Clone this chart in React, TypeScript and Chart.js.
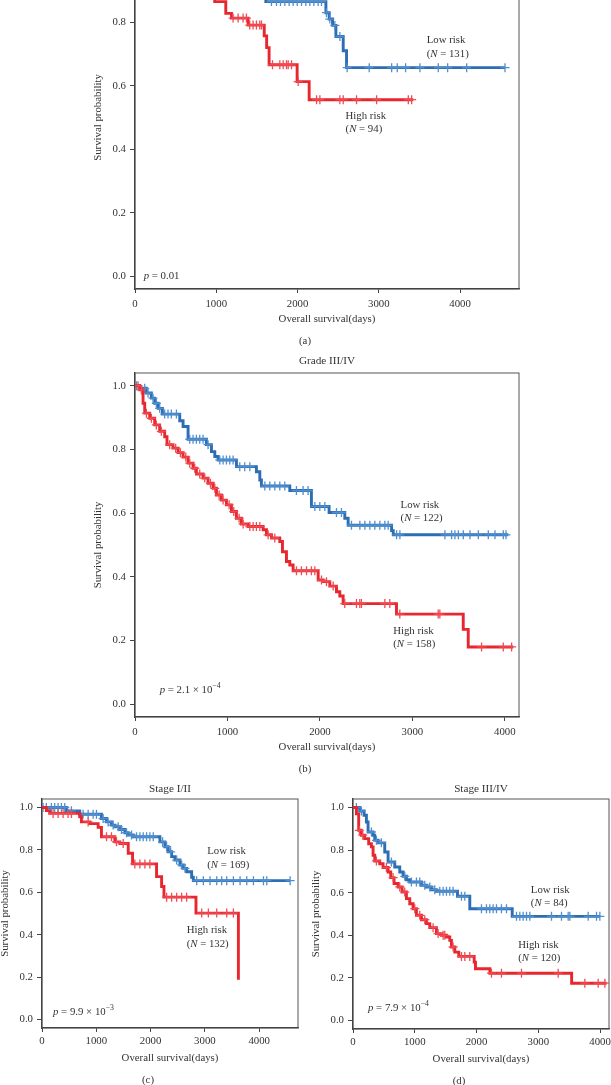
import React, { useEffect, useRef } from "react";
import { Chart, registerables } from "chart.js";

Chart.register(...registerables);

// ---------- shared ticks / labels ----------
const X_TICKS = [0, 1000, 2000, 3000, 4000];
const Y_TICKS = [0, 0.2, 0.4, 0.6, 0.8, 1.0];
const X_TITLE = "Overall survival(days)";
const Y_TITLE = "Survival probability";

// ---------- panel (a) ----------
const A_HIGH_T = [0, 160, 330, 520, 700, 830, 981, 1117, 1187, 1392, 1590, 1620, 1650, 1995, 2143, 3424];
const A_HIGH_S = [1.0, 0.989, 0.968, 0.947, 0.926, 0.894, 0.865, 0.828, 0.813, 0.791, 0.757, 0.72, 0.666, 0.613, 0.556, 0.556];
const A_HIGH_C = [240, 450, 610, 900, 1207, 1269, 1330, 1371, 1412, 1453, 1494, 1535, 1556, 1692, 1782, 1823, 1864, 1885, 1926, 2008, 2234, 2275, 2521, 2562, 2726, 2973, 3363, 3404];
const A_LOW_T = [0, 310, 690, 1010, 1290, 1490, 1610, 2349, 2390, 2431, 2472, 2562, 2603, 4553];
const A_LOW_S = [1.0, 0.982, 0.96, 0.935, 0.91, 0.887, 0.865, 0.83, 0.81, 0.79, 0.755, 0.71, 0.657, 0.657];
const A_LOW_C = [180, 520, 850, 1150, 1400, 1679, 1741, 1790, 1844, 1897, 1946, 1996, 2049, 2102, 2151, 2201, 2254, 2295, 2356, 2397, 2459, 2521, 2611, 2882, 3158, 3227, 3330, 3506, 3732, 3847, 4081, 4553];

// ---------- panel (b) ----------
const B_HIGH_T = [0, 51, 87, 105, 159, 213, 267, 321, 346, 411, 466, 520, 574, 628, 664, 736, 790, 844, 881, 935, 989, 1043, 1097, 1151, 1223, 1386, 1422, 1476, 1566, 1595, 1638, 1674, 1710, 1981, 2035, 2107, 2179, 2215, 2251, 2828, 3550, 3604, 4091];
const B_HIGH_S = [1.0, 0.987, 0.945, 0.914, 0.898, 0.877, 0.857, 0.84, 0.815, 0.804, 0.79, 0.776, 0.757, 0.741, 0.723, 0.71, 0.694, 0.678, 0.657, 0.641, 0.626, 0.605, 0.584, 0.566, 0.558, 0.548, 0.532, 0.522, 0.511, 0.479, 0.448, 0.437, 0.419, 0.39, 0.385, 0.371, 0.353, 0.34, 0.316, 0.283, 0.235, 0.18, 0.18];
const B_HIGH_C = [33, 69, 123, 177, 231, 285, 375, 440, 491, 549, 592, 646, 700, 754, 816, 863, 910, 953, 1018, 1068, 1126, 1170, 1242, 1278, 1313, 1350, 1440, 1512, 1746, 1800, 1855, 1908, 1945, 2017, 2071, 2143, 2269, 2395, 2431, 2449, 2702, 2756, 2864, 3279, 3297, 3748, 3983, 4073];
const B_LOW_T = [0, 51, 123, 177, 213, 250, 296, 484, 520, 574, 772, 827, 863, 899, 1097, 1313, 1350, 1367, 1674, 1908, 2099, 2269, 2305, 2775, 2793, 4037];
const B_LOW_S = [1.0, 0.992, 0.977, 0.961, 0.945, 0.929, 0.911, 0.89, 0.872, 0.832, 0.815, 0.793, 0.778, 0.767, 0.746, 0.73, 0.704, 0.685, 0.671, 0.621, 0.602, 0.584, 0.562, 0.545, 0.532, 0.532];
const B_LOW_C = [15, 105, 141, 195, 231, 267, 321, 357, 393, 448, 592, 628, 664, 700, 736, 790, 917, 953, 989, 1025, 1061, 1133, 1187, 1242, 1404, 1458, 1512, 1566, 1620, 1746, 1818, 1872, 1945, 1999, 2053, 2179, 2233, 2341, 2432, 2486, 2540, 2594, 2648, 2702, 2738, 2829, 2865, 3352, 3424, 3460, 3497, 3551, 3623, 3713, 3821, 3893, 3983, 4012];

// ---------- panel (c) ----------
const C_HIGH_T = [0, 80, 142, 695, 726, 880, 1034, 1095, 1342, 1434, 1588, 1668, 2110, 2203, 2246, 2836, 3617];
const C_HIGH_S = [1.0, 0.985, 0.972, 0.956, 0.932, 0.924, 0.906, 0.862, 0.838, 0.83, 0.784, 0.734, 0.674, 0.627, 0.577, 0.502, 0.188];
const C_HIGH_C = [204, 296, 388, 480, 542, 850, 1188, 1280, 1372, 1495, 1710, 1803, 1895, 1987, 2295, 2387, 2480, 2572, 2664, 2941, 3064, 3218, 3402, 3525];
const C_LOW_T = [0, 450, 695, 1095, 1188, 1280, 1342, 1434, 1526, 1588, 1680, 2172, 2264, 2325, 2387, 2448, 2541, 2602, 2664, 2756, 2787, 4567];
const C_LOW_S = [1.0, 0.984, 0.968, 0.948, 0.932, 0.917, 0.909, 0.896, 0.881, 0.87, 0.862, 0.838, 0.815, 0.791, 0.768, 0.752, 0.729, 0.713, 0.697, 0.671, 0.655, 0.655];
const C_LOW_C = [19, 80, 173, 234, 296, 357, 419, 542, 757, 850, 942, 1003, 1126, 1218, 1311, 1403, 1464, 1557, 1649, 1741, 1803, 1864, 1926, 1987, 2049, 2221, 2295, 2369, 2480, 2572, 2633, 2849, 2972, 3095, 3218, 3310, 3402, 3525, 3648, 3771, 3894, 4079, 4140, 4570];

// ---------- panel (d) ----------
const D_HIGH_T = [0, 55, 92, 135, 189, 254, 298, 325, 352, 433, 487, 568, 611, 665, 730, 795, 865, 919, 973, 1027, 1108, 1189, 1243, 1351, 1432, 1513, 1567, 1594, 1648, 1713, 1962, 1983, 2216, 3540, 4107];
const D_HIGH_S = [1.0, 0.97, 0.893, 0.87, 0.854, 0.83, 0.815, 0.776, 0.749, 0.736, 0.718, 0.697, 0.671, 0.643, 0.627, 0.603, 0.572, 0.548, 0.525, 0.494, 0.473, 0.455, 0.436, 0.408, 0.4, 0.392, 0.376, 0.345, 0.321, 0.301, 0.274, 0.243, 0.222, 0.175, 0.175];
const D_HIGH_C = [103, 158, 379, 541, 649, 757, 838, 1000, 1081, 1162, 1297, 1378, 1459, 1486, 1621, 1756, 1810, 1891, 2242, 2404, 2728, 3322, 3754, 3970, 4079];
const D_LOW_T = [0, 108, 179, 217, 244, 325, 352, 406, 514, 568, 676, 757, 811, 865, 919, 1108, 1189, 1270, 1351, 1692, 1891, 2578, 3998];
const D_LOW_S = [1.0, 0.984, 0.964, 0.932, 0.885, 0.87, 0.846, 0.834, 0.791, 0.744, 0.721, 0.697, 0.677, 0.661, 0.65, 0.635, 0.627, 0.614, 0.607, 0.583, 0.525, 0.489, 0.489];
const D_LOW_C = [55, 136, 298, 379, 460, 622, 838, 946, 1027, 1081, 1162, 1243, 1324, 1405, 1459, 1513, 1567, 1621, 1756, 1810, 2080, 2161, 2215, 2269, 2323, 2404, 2485, 2647, 2701, 2755, 2809, 2863, 3214, 3376, 3484, 3511, 3808, 3943, 3997];

// ---------- styles ----------
const RED = "#E8262E";
const RED_MARK = "#F04B53";
const BLUE = "#2C6DB4";
const BLUE_MARK = "#4F8FCF";
const TEXT = "#333333";
const FONT = '"Liberation Serif", "Times New Roman", serif';
const FS = 10.8;

type Part = { t: string; i?: boolean; sup?: boolean };
type Note = { x: number; y: number; parts: Part[] };

const nLabel = (n: string): Part[] => [{ t: "(" }, { t: "N", i: true }, { t: " = " + n + ")" }];
const pPlain = (v: string): Part[] => [{ t: "p", i: true }, { t: " = " + v }];
const pSci = (m: string, e: string): Part[] => [{ t: "p", i: true }, { t: " = " + m + " \u00d7 10" }, { t: e, sup: true }];

const A_NOTES: Note[] = [
  { x: 3589, y: 0.742, parts: [{ t: "Low risk" }] },
  { x: 3589, y: 0.7, parts: nLabel("131") },
  { x: 2591, y: 0.503, parts: [{ t: "High risk" }] },
  { x: 2591, y: 0.463, parts: nLabel("94") },
  { x: 107, y: 0.0, parts: pPlain("0.01") },
];
const B_NOTES: Note[] = [
  { x: 2872, y: 0.626, parts: [{ t: "Low risk" }] },
  { x: 2872, y: 0.584, parts: nLabel("122") },
  { x: 2792, y: 0.23, parts: [{ t: "High risk" }] },
  { x: 2792, y: 0.189, parts: nLabel("158") },
  { x: 267, y: 0.044, parts: pSci("2.1", "\u22124") },
];
const C_NOTES: Note[] = [
  { x: 3044, y: 0.795, parts: [{ t: "Low risk" }] },
  { x: 3044, y: 0.727, parts: nLabel("169") },
  { x: 2664, y: 0.423, parts: [{ t: "High risk" }] },
  { x: 2664, y: 0.357, parts: nLabel("132") },
  { x: 203, y: 0.033, parts: pSci("9.9", "\u22123") },
];
const D_NOTES: Note[] = [
  { x: 2880, y: 0.611, parts: [{ t: "Low risk" }] },
  { x: 2880, y: 0.549, parts: nLabel("84") },
  { x: 2674, y: 0.353, parts: [{ t: "High risk" }] },
  { x: 2674, y: 0.293, parts: nLabel("120") },
  { x: 243, y: 0.056, parts: pSci("7.9", "\u22124") },
];

type Curve = { t: number[]; s: number[]; c: number[] };
type PanelCfg = {
  area: [number, number, number, number]; // left, top, right, bottom in page px
  xMax: number;
  title: string | null;
  titleGap: number;
  sub: string;
  tickPad: number;
  high: Curve;
  low: Curve;
  notes: Note[];
};

const PANELS: PanelCfg[] = [
  {
    area: [135, -54, 519, 289], xMax: 4725, title: null, titleGap: 11, sub: "(a)", tickPad: 5,
    high: { t: A_HIGH_T, s: A_HIGH_S, c: A_HIGH_C }, low: { t: A_LOW_T, s: A_LOW_S, c: A_LOW_C }, notes: A_NOTES,
  },
  {
    area: [135, 373, 519, 717], xMax: 4153, title: "Grade III/IV", titleGap: 11.5, sub: "(b)", tickPad: 5,
    high: { t: B_HIGH_T, s: B_HIGH_S, c: B_HIGH_C }, low: { t: B_LOW_T, s: B_LOW_S, c: B_LOW_C }, notes: B_NOTES,
  },
  {
    area: [42, 799, 298, 1028], xMax: 4715, title: "Stage I/II", titleGap: 9.5, sub: "(c)", tickPad: 3,
    high: { t: C_HIGH_T, s: C_HIGH_S, c: C_HIGH_C }, low: { t: C_LOW_T, s: C_LOW_S, c: C_LOW_C }, notes: C_NOTES,
  },
  {
    area: [353, 799, 609, 1029], xMax: 4145, title: "Stage III/IV", titleGap: 9.5, sub: "(d)", tickPad: 3,
    high: { t: D_HIGH_T, s: D_HIGH_S, c: D_HIGH_C }, low: { t: D_LOW_T, s: D_LOW_S, c: D_LOW_C }, notes: D_NOTES,
  },
];

const PAD_L = 44;
const PAD_R = 14;
const PAD_T = 24;
const PAD_B = 37;
const EXTRA_B = 26;

function survAt(t: number[], s: number[], x: number): number {
  let v = s[0];
  for (let i = 0; i < t.length; i++) {
    if (t[i] <= x) v = s[i];
    else break;
  }
  return v;
}

function drawRich(ctx: CanvasRenderingContext2D, parts: Part[], x: number, y: number) {
  let cx = x;
  ctx.textAlign = "left";
  ctx.textBaseline = "middle";
  ctx.fillStyle = TEXT;
  for (const p of parts) {
    const fs = p.sup ? FS * 0.72 : FS;
    ctx.font = `${p.i ? "italic " : ""}${fs}px ${FONT}`;
    ctx.fillText(p.t, cx, p.sup ? y - FS * 0.38 : y);
    cx += ctx.measureText(p.t).width;
  }
}

function KMPanel({ cfg }: { cfg: PanelCfg }) {
  const ref = useRef<HTMLCanvasElement | null>(null);
  const [l, t, r, b] = cfg.area;
  const left = l - PAD_L;
  const top = t - PAD_T;
  const width = r - l + PAD_L + PAD_R;
  const height = b - t + PAD_T + PAD_B + EXTRA_B;

  useEffect(() => {
    if (!ref.current) return;
    const lineDs = (c: Curve, color: string) => ({
      type: "line" as const,
      data: c.t.map((x, i) => ({ x, y: c.s[i] })),
      borderColor: color,
      backgroundColor: color,
      borderWidth: 2.9,
      stepped: "before" as const,
      pointRadius: 0,
      fill: false,
      tension: 0,
    });
    const censorDs = (c: Curve, color: string) => ({
      type: "line" as const,
      data: c.c.map((x) => ({ x, y: survAt(c.t, c.s, x) })),
      showLine: false,
      pointStyle: "cross" as const,
      pointRadius: 4.5,
      borderColor: color,
      backgroundColor: color,
      pointBorderWidth: 1.3,
      borderWidth: 1.3,
    });

    const decor = {
      id: "decor",
      beforeDatasetsDraw(chart: any) {
        const { ctx, chartArea: a } = chart;
        ctx.save();
        ctx.strokeStyle = "#555";
        ctx.lineWidth = 1;
        ctx.strokeRect(a.left, a.top, a.right - a.left, a.bottom - a.top);
        ctx.restore();
      },
      afterDraw(chart: any) {
        const { ctx, chartArea: a, scales } = chart;
        ctx.save();
        ctx.fillStyle = TEXT;
        ctx.textBaseline = "middle";
        ctx.textAlign = "center";
        ctx.font = `${FS + 0.4}px ${FONT}`;
        if (cfg.title) ctx.fillText(cfg.title, (a.left + a.right) / 2, a.top - cfg.titleGap);
        ctx.font = `${FS}px ${FONT}`;
        ctx.fillText(cfg.sub, (a.left + a.right) / 2 - 22, a.bottom + 52);
        for (const n of cfg.notes) {
          drawRich(ctx, n.parts, scales.x.getPixelForValue(n.x), scales.y.getPixelForValue(n.y));
        }
        ctx.restore();
      },
    };

    const chart = new Chart(ref.current, {
      type: "line",
      data: {
        datasets: [
          censorDs(cfg.high, RED_MARK),
          lineDs(cfg.high, RED),
          censorDs(cfg.low, BLUE_MARK),
          lineDs(cfg.low, BLUE),
        ] as any,
      },
      options: {
        responsive: false,
        animation: false,
        events: [],
        layout: { padding: { left: 0, top: PAD_T, right: PAD_R, bottom: EXTRA_B } },
        plugins: { legend: { display: false }, tooltip: { enabled: false }, title: { display: false } },
        scales: {
          x: {
            type: "linear",
            min: 0,
            max: cfg.xMax,
            afterBuildTicks: (s: any) => {
              s.ticks = X_TICKS.map((v) => ({ value: v }));
            },
            afterFit: (s: any) => {
              s.height = PAD_B;
            },
            grid: { drawOnChartArea: false, drawTicks: true, tickLength: 4, color: "#444", lineWidth: 1 },
            border: { display: true, color: "#333", width: 1.3 },
            ticks: {
              color: TEXT,
              font: { family: FONT, size: FS },
              padding: cfg.tickPad,
              maxRotation: 0,
              autoSkip: false,
              callback: (v: any) => String(v),
            },
            title: {
              display: true,
              text: X_TITLE,
              color: TEXT,
              font: { family: FONT, size: FS },
              padding: { top: 0, bottom: 0 },
            },
          },
          y: {
            type: "linear",
            min: -0.04,
            max: 1.04,
            afterBuildTicks: (s: any) => {
              s.ticks = Y_TICKS.map((v) => ({ value: v }));
            },
            afterFit: (s: any) => {
              s.width = PAD_L;
            },
            grid: { drawOnChartArea: false, drawTicks: true, tickLength: 5, color: "#444", lineWidth: 1 },
            border: { display: true, color: "#333", width: 1.3 },
            ticks: {
              color: TEXT,
              font: { family: FONT, size: FS },
              padding: 4,
              autoSkip: false,
              callback: (v: any) => Number(v).toFixed(1),
            },
            title: {
              display: true,
              text: Y_TITLE,
              color: TEXT,
              font: { family: FONT, size: FS },
              padding: { top: 0.5, bottom: 0 },
            },
          },
        },
      },
      plugins: [decor],
    } as any);
    return () => chart.destroy();
  }, [cfg]);

  return (
    <canvas
      ref={ref}
      width={width}
      height={height}
      style={{ position: "absolute", left, top, width, height, display: "block" }}
    />
  );
}

export default function App() {
  return (
    <div
      style={{
        position: "absolute",
        left: 0,
        top: 0,
        width: 611,
        height: 1085,
        overflow: "hidden",
        background: "#ffffff",
      }}
    >
      {PANELS.map((p, i) => (
        <KMPanel key={i} cfg={p} />
      ))}
    </div>
  );
}
